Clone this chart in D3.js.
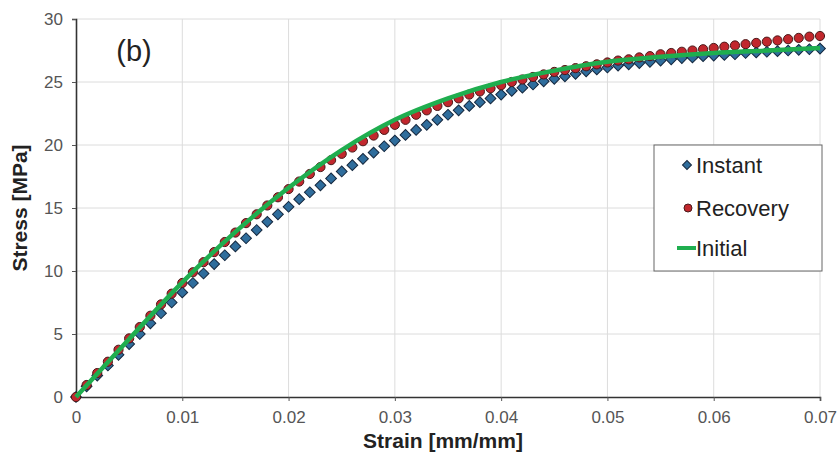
<!DOCTYPE html>
<html>
<head>
<meta charset="utf-8">
<script src="https://cdn.jsdelivr.net/npm/d3@7"></script>
<style>
  body { margin: 0; background: #fff; }
  text { font-family: "Liberation Sans", Arial, sans-serif; }
</style>
</head>
<body>
<div id="chart"></div>
<script>
var strain = [0, 0.001, 0.002, 0.003, 0.004, 0.005, 0.006, 0.007, 0.008, 0.009,
  0.010, 0.011, 0.012, 0.013, 0.014, 0.015, 0.016, 0.017, 0.018, 0.019,
  0.020, 0.021, 0.022, 0.023, 0.024, 0.025, 0.026, 0.027, 0.028, 0.029,
  0.030, 0.031, 0.032, 0.033, 0.034, 0.035, 0.036, 0.037, 0.038, 0.039,
  0.040, 0.041, 0.042, 0.043, 0.044, 0.045, 0.046, 0.047, 0.048, 0.049,
  0.050, 0.051, 0.052, 0.053, 0.054, 0.055, 0.056, 0.057, 0.058, 0.059,
  0.060, 0.061, 0.062, 0.063, 0.064, 0.065, 0.066, 0.067, 0.068, 0.069, 0.070];

var instant = [0, 0.85, 1.7, 2.5, 3.35, 4.2, 5.0, 5.85, 6.65, 7.5,
  8.3, 9.05, 9.8, 10.55, 11.25, 11.95, 12.6, 13.25, 13.9, 14.5,
  15.1, 15.7, 16.25, 16.8, 17.35, 17.9, 18.4, 18.9, 19.4, 19.9,
  20.35, 20.8, 21.2, 21.6, 22.0, 22.4, 22.75, 23.1, 23.4, 23.7,
  24.0, 24.3, 24.55, 24.8, 25.05, 25.25, 25.45, 25.65, 25.85, 26.0,
  26.15, 26.3, 26.4, 26.5, 26.6, 26.7, 26.8, 26.9, 26.95, 27.05,
  27.1, 27.15, 27.2, 27.3, 27.35, 27.4, 27.45, 27.5, 27.55, 27.6, 27.65];

var recovery = [0, 0.95, 1.9, 2.8, 3.75, 4.65, 5.55, 6.45, 7.35, 8.2,
  9.05, 9.9, 10.7, 11.5, 12.3, 13.05, 13.8, 14.5, 15.2, 15.85,
  16.5, 17.1, 17.7, 18.25, 18.8, 19.3, 19.8, 20.3, 20.75, 21.2,
  21.6, 22.0, 22.4, 22.75, 23.1, 23.4, 23.7, 24.0, 24.25, 24.5,
  24.75, 25.0, 25.2, 25.4, 25.6, 25.8, 25.95, 26.1, 26.25, 26.4,
  26.55, 26.7, 26.8, 26.95, 27.05, 27.2, 27.3, 27.4, 27.5, 27.6,
  27.7, 27.8, 27.9, 28.0, 28.1, 28.2, 28.3, 28.4, 28.5, 28.6, 28.65];

// initial curve, sampled coarser
var initStrain = [0, 0.005, 0.01, 0.015, 0.02, 0.025, 0.03, 0.035, 0.04, 0.045, 0.05, 0.055, 0.06, 0.065, 0.07];
var initStress = [0, 4.6, 9.1, 13.1, 16.6, 19.6, 22.0, 23.7, 25.0, 25.9, 26.6, 27.0, 27.3, 27.5, 27.7];

var xTicks = [0, 0.01, 0.02, 0.03, 0.04, 0.05, 0.06, 0.07];
var yTicks = [0, 5, 10, 15, 20, 25, 30];
var legendNames = ["Instant", "Recovery", "Initial"];

var W = 837, H = 466;
var svg = d3.select("#chart").append("svg")
  .attr("width", W)
  .attr("height", H)

var x = d3.scaleLinear().domain([0, 0.07]).range([76, 820]);
var y = d3.scaleLinear().domain([0, 30]).range([397, 19]);

// grid
var grid = svg.append("g")
grid.selectAll(".vg").data(xTicks.slice(1)).enter().append("line")
  .attr("x1", d => x(d)).attr("x2", d => x(d))
  .attr("y1", y(0)).attr("y2", y(30))
  .attr("stroke", "#dcdcdc").attr("stroke-width", 1)
grid.selectAll(".hg").data(yTicks.slice(1)).enter().append("line")
  .attr("x1", x(0)).attr("x2", x(0.07))
  .attr("y1", d => y(d)).attr("y2", d => y(d))
  .attr("stroke", "#dcdcdc").attr("stroke-width", 1)

// axes
var xAxis = svg.append("g")
  .attr("transform", "translate(0," + y(0) + ")")
  .call(d3.axisBottom(x).tickValues(xTicks).tickFormat(d => d === 0 ? "0" : d3.format(".2f")(d)).tickSize(4).tickPadding(10))
var yAxis = svg.append("g")
  .attr("transform", "translate(" + x(0) + ",0)")
  .call(d3.axisLeft(y).tickValues(yTicks).tickSize(4).tickPadding(9))

;[xAxis, yAxis].forEach(function(a) {
  a.select(".domain").attr("stroke", "#333").attr("stroke-width", 1.6)
  a.selectAll(".tick line").attr("stroke", "#555")
  a.selectAll(".tick text").attr("fill", "#555").style("font-size", "17px")
})

// axis titles
svg.append("text")
  .attr("x", 443).attr("y", 448)
  .attr("text-anchor", "middle")
  .style("font-size", "21px").style("font-weight", "bold")
  .attr("fill", "#222")
  .text("Strain [mm/mm]")
svg.append("text")
  .attr("transform", "translate(27,208) rotate(-90)")
  .attr("text-anchor", "middle")
  .style("font-size", "21px").style("font-weight", "bold")
  .attr("fill", "#222")
  .text("Stress [MPa]")

svg.append("text")
  .attr("x", 134).attr("y", 61)
  .attr("text-anchor", "middle")
  .style("font-size", "29px")
  .attr("fill", "#222")
  .text("(b)")

// square turned 45deg, like the excel diamond marker
var diamond = d3.symbol().type(d3.symbolSquare).size(58)

// series
var instData = strain.map((s, i) => [s, instant[i]])
var recData = strain.map((s, i) => [s, recovery[i]])
var initData = initStrain.map((s, i) => [s, initStress[i]])

svg.append("g").selectAll("path").data(instData).enter().append("path")
  .attr("d", diamond)
  .attr("transform", d => "translate(" + x(d[0]) + "," + y(d[1]) + ") rotate(45)")
  .attr("fill", "#2f6d9c").attr("stroke", "#15283f").attr("stroke-width", 1)

svg.append("g").selectAll("circle").data(recData).enter().append("circle")
  .attr("cx", d => x(d[0])).attr("cy", d => y(d[1]))
  .attr("r", 4.6)
  .attr("fill", "#c1272d").attr("stroke", "#4a1a1a").attr("stroke-width", 1)

var line = d3.line().x(d => x(d[0])).y(d => y(d[1])).curve(d3.curveMonotoneX)
svg.append("path").datum(initData)
  .attr("d", line)
  .attr("fill", "none").attr("stroke", "#1fae4f").attr("stroke-width", 4.5)

// legend
var lg = svg.append("g")
lg.append("rect")
  .attr("x", 654).attr("y", 145).attr("width", 168).attr("height", 126)
  .attr("fill", "#fff").attr("stroke", "#666").attr("stroke-width", 1)
var rowY = [165, 208, 248]
lg.append("path").attr("d", d3.symbol().type(d3.symbolSquare).size(40))
  .attr("transform", "translate(687," + rowY[0] + ") rotate(45)")
  .attr("fill", "#2f6d9c").attr("stroke", "#15283f")
lg.append("circle").attr("cx", 688).attr("cy", rowY[1]).attr("r", 4)
  .attr("fill", "#c1272d").attr("stroke", "#4a1a1a")
lg.append("line").attr("x1", 677).attr("x2", 696).attr("y1", rowY[2]).attr("y2", rowY[2])
  .attr("stroke", "#1fae4f").attr("stroke-width", 4)
lg.selectAll(".lt").data(legendNames).enter().append("text")
  .attr("x", 696).attr("y", (d, i) => rowY[i])
  .attr("dy", "0.36em")
  .style("font-size", "22px")
  .attr("fill", "#222")
  .text(d => d)
</script>
</body>
</html>
